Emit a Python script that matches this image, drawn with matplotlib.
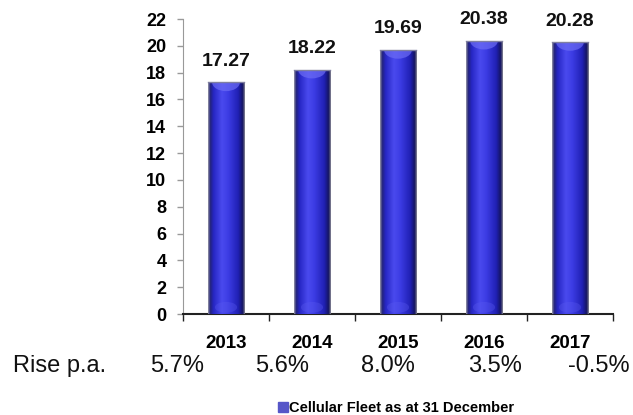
import numpy as np
import matplotlib
matplotlib.use("Agg")
import matplotlib.pyplot as plt
from matplotlib.colors import LinearSegmentedColormap
from matplotlib.patches import Ellipse, Patch

years = ["2013", "2014", "2015", "2016", "2017"]
fleet = [17.27, 18.22, 19.69, 20.38, 20.28]
rise = ["5.7%", "5.6%", "8.0%", "3.5%", "-0.5%"]
rise_x = [177, 282, 388, 495, 599]  # pixel centres of the rise row
legend_label = "Cellular Fleet as at 31 December"

plt.rcParams["font.family"] = ["Liberation Sans", "DejaVu Sans"]

W, H = 633, 415
fig = plt.figure(figsize=(W / 100, H / 100), dpi=100)
ax = fig.add_axes([183 / W, (H - 314) / H, 430 / W, 295 / H])

x = np.arange(len(years))
bars = ax.bar(x, fleet, width=0.43, color="#3030d8", edgecolor="none", zorder=2)

# cylinder shading across each bar
cyl = LinearSegmentedColormap.from_list("cyl", [
    (0.0, "#9a9aa8"), (0.06, "#22227a"), (0.15, "#2626c4"),
    (0.38, "#4a4aee"), (0.55, "#3c3ce4"), (0.82, "#2020b4"),
    (0.94, "#141460"), (1.0, "#8a8a96")])
grad = np.linspace(0, 1, 256).reshape(1, -1)
for b in bars:
    x0, w, h = b.get_x(), b.get_width(), b.get_height()
    im = ax.imshow(grad, cmap=cyl, extent=(x0, x0 + w, 0, h),
                   aspect="auto", zorder=3, interpolation="bilinear")
    im.set_clip_path(b)
    top = Ellipse((x0 + w / 2, h), w * 0.75, 1.3, color="#6c6cf4",
                  alpha=0.7, zorder=4, lw=0)
    ax.add_patch(top)
    top.set_clip_path(b)
    bot = Ellipse((x0 + w / 2, 0.5), w * 0.6, 0.8, color="#5a5af0",
                  alpha=0.35, zorder=4, lw=0)
    ax.add_patch(bot)
    bot.set_clip_path(b)
    ax.plot([x0, x0 + w], [h, h], color="#8080a0", lw=1, zorder=5)
    ax.annotate(f"{h:.2f}", (x0 + w / 2, h), xytext=(0, 9),
                textcoords="offset points", ha="center", va="bottom",
                fontsize=14, fontweight="bold", color="#111111")

ax.set_xlim(-0.5, len(years) - 0.5)
ax.set_ylim(0, 22)
ax.set_yticks(np.arange(0, 23, 2))
ax.set_xticks(x)
ax.set_xticklabels(years, fontsize=13.5, fontweight="bold")
ax.set_xticks(np.arange(-0.5, len(years)), minor=True)
ax.tick_params(axis="x", which="major", length=0, pad=15)
ax.tick_params(axis="x", which="minor", length=5, width=1, color="#222222",
               direction="out")
ax.tick_params(axis="y", length=4, width=1, color="#999999", pad=8,
               labelsize=13)
for lab in ax.get_yticklabels():
    lab.set_fontweight("bold")

for s in ["top", "right"]:
    ax.spines[s].set_visible(False)
ax.spines["left"].set_color("#999999")
ax.spines["bottom"].set_color("#222222")
ax.spines["bottom"].set_linewidth(1.5)

fig.text(13 / W, (H - 372) / H, "Rise p.a.", fontsize=17, ha="left",
         va="baseline", color="#111111")
for px, r in zip(rise_x, rise):
    fig.text(px / W, (H - 372) / H, r, fontsize=17, ha="center",
             va="baseline", color="#111111")

fig.legend(handles=[Patch(color="#5656c8", label=legend_label)],
           loc="center", bbox_to_anchor=(396 / W, (H - 408) / H),
           frameon=False, handlelength=0.7, handleheight=0.7,
           handletextpad=0.1,
           prop={"family": ["Liberation Sans Narrow", "Liberation Sans"],
                 "weight": "bold", "size": 10.5})

fig.savefig("out.png", dpi=100)
